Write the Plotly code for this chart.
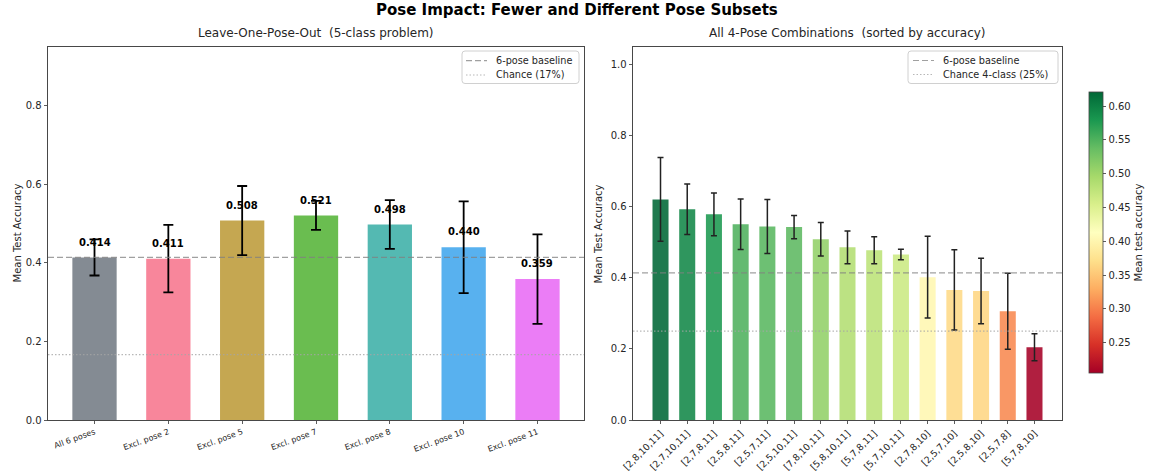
import plotly.graph_objects as go

# ---------------- data ----------------
loo_labels = ["All 6 poses", "Excl. pose 2", "Excl. pose 5", "Excl. pose 7",
              "Excl. pose 8", "Excl. pose 10", "Excl. pose 11"]
loo_mean = [0.414, 0.411, 0.508, 0.521, 0.498, 0.440, 0.359]
loo_std = [0.046, 0.086, 0.088, 0.037, 0.062, 0.117, 0.114]
loo_colors = ["#6f7780", "#f77189", "#bb9832", "#50b131", "#36ada4", "#3ba3ec", "#e866f4"]

combo_labels = ["[2,8,10,11]", "[2,7,10,11]", "[2,7,8,11]", "[2,5,8,11]", "[2,5,7,11]",
                "[2,5,10,11]", "[7,8,10,11]", "[5,8,10,11]", "[5,7,8,11]", "[5,7,10,11]",
                "[2,7,8,10]", "[2,5,7,10]", "[2,5,8,10]", "[2,5,7,8]", "[5,7,8,10]"]
combo_mean = [0.621, 0.593, 0.579, 0.551, 0.545, 0.543, 0.509, 0.486, 0.478, 0.466,
              0.402, 0.366, 0.363, 0.306, 0.205]
combo_std = [0.118, 0.071, 0.060, 0.071, 0.076, 0.033, 0.047, 0.046, 0.038, 0.015,
             0.115, 0.113, 0.092, 0.107, 0.038]

baseline = loo_mean[0]
chance_left = 1 / 6
chance_right = 1 / 4
colorbar_ticks = [0.25, 0.30, 0.35, 0.40, 0.45, 0.50, 0.55, 0.60]
legend_left = ["6-pose baseline", "Chance (17%)"]
legend_right = ["6-pose baseline", "Chance 4-class (25%)"]

# ---------------- layout helpers ----------------
W, H = 1153, 471
FONT = "DejaVu Sans"
TXT = "#262626"
BASE_LINE = dict(color="rgba(128,128,128,0.75)", width=1.2, dash="6px,3px")
CHANCE_LINE = dict(color="rgba(165,165,165,0.8)", width=1.2, dash="1.5px,2px")


def px_x(p):
    return p / W


def px_y(p):
    return 1 - p / H


nL = len(loo_labels)
nR = len(combo_labels)
xL_range = [-0.3 - 0.05 * (nL - 1 + 0.6), nL - 1 + 0.3 + 0.05 * (nL - 1 + 0.6)]
xR_range = [-0.3 - 0.05 * (nR - 1 + 0.6), nR - 1 + 0.3 + 0.05 * (nR - 1 + 0.6)]

fig = go.Figure()

# ---------- left panel ----------
fig.add_trace(go.Bar(
    x=list(range(nL)), y=loo_mean, width=0.6,
    marker=dict(color=loo_colors, opacity=0.85, line=dict(width=0)),
    error_y=dict(type="data", array=loo_std, color="black", thickness=1.8, width=5),
    xaxis="x", yaxis="y", showlegend=False, hoverinfo="skip"))

fig.add_trace(go.Scatter(
    x=xL_range, y=[baseline, baseline], mode="lines", line=BASE_LINE,
    xaxis="x", yaxis="y", showlegend=False, hoverinfo="skip"))
fig.add_trace(go.Scatter(
    x=xL_range, y=[chance_left, chance_left], mode="lines", line=CHANCE_LINE,
    xaxis="x", yaxis="y", showlegend=False, hoverinfo="skip"))

# ---------- right panel ----------
fig.add_trace(go.Bar(
    x=list(range(nR)), y=combo_mean, width=0.6,
    marker=dict(color=combo_mean, colorscale="RdYlGn", cmin=min(combo_mean),
                cmax=max(combo_mean), opacity=0.88, line=dict(width=0),
                showscale=True,
                colorbar=dict(
                    x=px_x(1089), xanchor="left", xpad=0,
                    y=px_y((92 + 373) / 2), yanchor="middle", ypad=0,
                    len=(373 - 92) / H, lenmode="fraction",
                    thickness=14, thicknessmode="pixels",
                    outlinecolor="#444", outlinewidth=0.8,
                    tickvals=colorbar_ticks, tickformat=".2f",
                    ticks="outside", ticklen=3.5, tickwidth=0.8, tickcolor="#333",
                    tickfont=dict(family=FONT, size=10, color=TXT),
                    title=dict(text="Mean test accuracy", side="right",
                               font=dict(family=FONT, size=10, color=TXT)))),
    error_y=dict(type="data", array=combo_std, color="#222", thickness=1.5, width=3),
    xaxis="x2", yaxis="y2", showlegend=False, hoverinfo="skip"))

fig.add_trace(go.Scatter(
    x=xR_range, y=[baseline, baseline], mode="lines", line=BASE_LINE,
    xaxis="x2", yaxis="y2", showlegend=False, hoverinfo="skip"))
fig.add_trace(go.Scatter(
    x=xR_range, y=[chance_right, chance_right], mode="lines", line=CHANCE_LINE,
    xaxis="x2", yaxis="y2", showlegend=False, hoverinfo="skip"))

# value labels on left bars
annotations = []
for i, m in enumerate(loo_mean):
    annotations.append(dict(x=i, y=m + 0.02, xref="x", yref="y", text=f"<b>{m:.3f}</b>",
                            showarrow=False, yanchor="bottom", xanchor="center",
                            font=dict(family=FONT, size=10, color="black")))

# titles
annotations.append(dict(x=0.5, y=px_y(10), xref="paper", yref="paper",
                        text="<b>Pose Impact: Fewer and Different Pose Subsets</b>",
                        showarrow=False, xanchor="center", yanchor="middle",
                        font=dict(family=FONT, size=15, color="black")))
annotations.append(dict(x=px_x((48 + 584) / 2), y=px_y(33), xref="paper", yref="paper",
                        text="Leave-One-Pose-Out \u00a0(5-class problem)",
                        showarrow=False, xanchor="center", yanchor="middle",
                        font=dict(family=FONT, size=12, color=TXT)))
annotations.append(dict(x=px_x((633 + 1062) / 2), y=px_y(33), xref="paper", yref="paper",
                        text="All 4-Pose Combinations \u00a0(sorted by accuracy)",
                        showarrow=False, xanchor="center", yanchor="middle",
                        font=dict(family=FONT, size=12, color=TXT)))
annotations.append(dict(x=px_x(17), y=px_y((47 + 420) / 2), xref="paper", yref="paper",
                        text="Mean Test Accuracy", textangle=-90, showarrow=False,
                        xanchor="center", yanchor="middle",
                        font=dict(family=FONT, size=10, color=TXT)))
annotations.append(dict(x=px_x(598), y=px_y((47 + 420) / 2), xref="paper", yref="paper",
                        text="Mean Test Accuracy", textangle=-90, showarrow=False,
                        xanchor="center", yanchor="middle",
                        font=dict(family=FONT, size=10, color=TXT)))

# ---------- manual legends (matplotlib-like) ----------
shapes = []


def rounded_box(x0, y0, x1, y1, r=3):
    X0, X1 = px_x(x0), px_x(x1)
    Y0, Y1 = px_y(y0), px_y(y1)
    rx, ry = r / W, r / H
    return (f"M {X0+rx},{Y0} L {X1-rx},{Y0} Q {X1},{Y0} {X1},{Y0-ry} "
            f"L {X1},{Y1+ry} Q {X1},{Y1} {X1-rx},{Y1} L {X0+rx},{Y1} "
            f"Q {X0},{Y1} {X0},{Y1+ry} L {X0},{Y0-ry} Q {X0},{Y0} {X0+rx},{Y0} Z")


def add_legend(box, sample_x, text_x, rows, labels):
    x0, y0, x1, y1 = box
    shapes.append(dict(type="path", path=rounded_box(x0, y0, x1, y1), xref="paper",
                       yref="paper", line=dict(color="#d0d0d0", width=1),
                       fillcolor="rgba(255,255,255,0.8)", layer="above"))
    for yy, lab, style in zip(rows, labels, [BASE_LINE, CHANCE_LINE]):
        shapes.append(dict(type="line", xref="paper", yref="paper",
                           x0=px_x(sample_x[0]), x1=px_x(sample_x[1]),
                           y0=px_y(yy), y1=px_y(yy), line=style, layer="above"))
        annotations.append(dict(x=px_x(text_x), y=px_y(yy), xref="paper", yref="paper",
                                text=lab, showarrow=False, xanchor="left",
                                yanchor="middle",
                                font=dict(family=FONT, size=9.7, color=TXT)))


add_legend((462, 51, 579, 83.5), (466, 487), 494, (60.7, 75), legend_left)
add_legend((908, 51, 1058, 83.5), (913, 934), 941, (60.5, 74.5), legend_right)

axis_common = dict(showline=True, linecolor="#333", linewidth=0.9, mirror=True,
                   ticks="outside", ticklen=3.5, tickwidth=0.8, tickcolor="#333",
                   showgrid=False, zeroline=False, automargin=False)
ytickfont = dict(family=FONT, size=10, color=TXT)

fig.update_layout(
    width=W, height=H, margin=dict(l=0, r=0, t=0, b=0, autoexpand=False),
    paper_bgcolor="white", plot_bgcolor="white",
    showlegend=False,
    xaxis=dict(domain=[px_x(48), px_x(584)], range=xL_range,
               tickvals=list(range(nL)), ticktext=loo_labels, tickangle=-20,
               anchor="y", tickfont=dict(family=FONT, size=8, color=TXT), **axis_common),
    yaxis=dict(domain=[px_y(420), px_y(47)], range=[0, 0.95],
               tickvals=[0.0, 0.2, 0.4, 0.6, 0.8], tickformat=".1f",
               anchor="x", tickfont=ytickfont, **axis_common),
    xaxis2=dict(domain=[px_x(633), px_x(1062)], range=xR_range,
                tickvals=list(range(nR)), ticktext=combo_labels, tickangle=-45,
                anchor="y2", tickfont=dict(family=FONT, size=9.3, color=TXT),
                **axis_common),
    yaxis2=dict(domain=[px_y(420), px_y(47)], range=[0, 1.05],
                tickvals=[0.0, 0.2, 0.4, 0.6, 0.8, 1.0], tickformat=".1f",
                anchor="x2", tickfont=ytickfont, **axis_common),
    annotations=annotations,
    shapes=shapes,
    font=dict(family=FONT, color=TXT),
)

fig.write_html("out.html",
               config={"displayModeBar": False, "staticPlot": True},
               post_script="document.body.style.margin='0';"
                           "document.body.style.overflow='hidden';")
